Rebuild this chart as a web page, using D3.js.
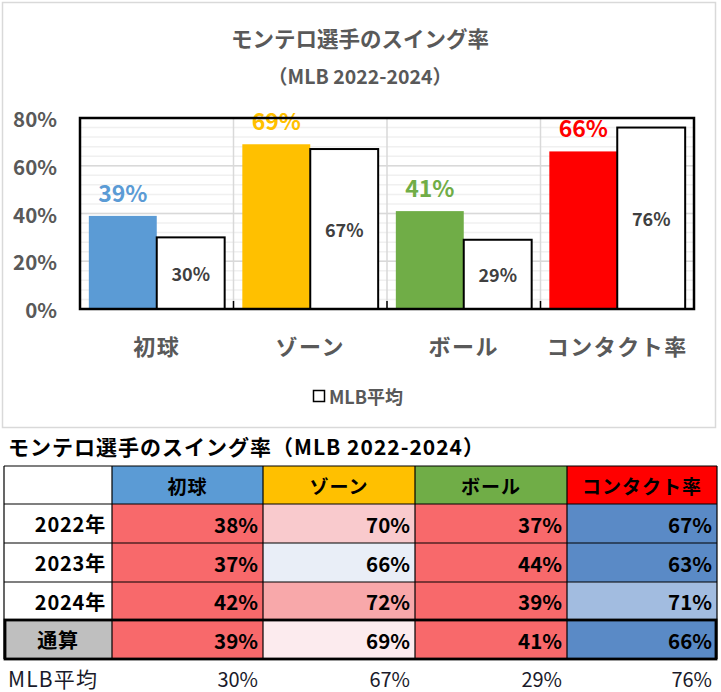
<!DOCTYPE html>
<html><head><meta charset="utf-8">
<script src="https://cdn.jsdelivr.net/npm/d3@7"></script>
<style>
html,body{margin:0;padding:0;background:#fff;}
svg{display:block;}
text{font-family:"Noto Sans CJK JP","Noto Sans",sans-serif;}
</style></head>
<body>
<svg id="c" width="721" height="692"></svg>
<script>
// ---- data ----
const categories = ["初球", "ゾーン", "ボール", "コンタクト率"];
const monteroValues = [0.39, 0.69, 0.41, 0.66];
const mlbValues = [0.30, 0.67, 0.29, 0.76];
const yTicks = [0, 0.2, 0.4, 0.6, 0.8];
const chartTitle = "モンテロ選手のスイング率";
const chartSubtitle = "（MLB 2022-2024）";
const legendLabel = "MLB平均";

const tableTitle = "モンテロ選手のスイング率（MLB 2022-2024）";
const rowLabels = ["2022年", "2023年", "2024年", "通算"];
const row2022 = [38, 70, 37, 67];
const row2023 = [37, 66, 44, 63];
const row2024 = [42, 72, 39, 71];
const rowTotal = [39, 69, 41, 66];
const mlbRowLabel = "MLB平均";
const mlbRow = [30, 67, 29, 76];

// ---- styles ----
const catColors = ["#5B9BD5", "#FFC000", "#70AD47", "#FF0000"];
const cellColors = [
  ["#F8696B", "#F9CACD", "#F8696B", "#5A8AC6"],
  ["#F8696B", "#E9EEF7", "#F8696B", "#5A8AC6"],
  ["#F8696B", "#F8A8AA", "#F8696B", "#A2BCE0"],
  ["#F8696B", "#FCEBEE", "#F8696B", "#5A8AC6"]
];
const tableRows = [row2022, row2023, row2024, rowTotal];

const svg = d3.select("#c");
const fmt = d3.format(".0%");

// chart frame
svg.append("rect").attr("x", 2.5).attr("y", 2.5).attr("width", 713).attr("height", 425)
  .attr("fill", "#fff").attr("stroke", "#d9d9d9").attr("stroke-width", 1.5);

svg.append("text").attr("x", 360).attr("y", 37).attr("text-anchor", "middle")
  .attr("dominant-baseline", "central").attr("font-size", 21.5).attr("font-weight", "bold")
  .attr("fill", "#595959").text(chartTitle);
svg.append("text").attr("x", 360).attr("y", 75).attr("text-anchor", "middle")
  .attr("dominant-baseline", "central").attr("font-size", 19.5).attr("font-weight", "bold")
  .attr("fill", "#595959").text(chartSubtitle);

const L = 80, R = 694, T = 118, B = 309;
const y = d3.scaleLinear().domain([0, 0.8]).range([B, T]);
const x0 = d3.scaleBand().domain(categories).range([L, R]).padding(0);
const x1 = d3.scaleBand().domain(["p", "m"]).range([0, x0.bandwidth()]).paddingInner(0).paddingOuter(0.13);

// minor gridlines
const minor = d3.range(0, 0.8001, 0.04);
svg.append("g").selectAll("line").data(minor).join("line")
  .attr("x1", L).attr("x2", R).attr("y1", d => y(d)).attr("y2", d => y(d))
  .attr("stroke", "#f0f0f0").attr("stroke-width", 1.5);
// major gridlines
svg.append("g").selectAll("line").data(yTicks).join("line")
  .attr("x1", L).attr("x2", R).attr("y1", d => y(d)).attr("y2", d => y(d))
  .attr("stroke", "#d9d9d9").attr("stroke-width", 1.5);
// vertical category gridlines
const seps = categories.slice(1).map(c => x0(c));
svg.append("g").selectAll("line").data(seps).join("line")
  .attr("x1", d => d).attr("x2", d => d).attr("y1", T).attr("y2", B)
  .attr("stroke", "#d9d9d9").attr("stroke-width", 1.5);
// tick marks
svg.append("g").selectAll("line").data(seps).join("line")
  .attr("x1", d => d).attr("x2", d => d).attr("y1", B - 8).attr("y2", B)
  .attr("stroke", "#000").attr("stroke-width", 1.5);

// bars
const g = svg.append("g");
g.selectAll("rect.p").data(categories).join("rect").attr("class", "p")
  .attr("x", c => x0(c) + x1("p")).attr("width", x1.bandwidth())
  .attr("y", (c, i) => y(monteroValues[i])).attr("height", (c, i) => B - y(monteroValues[i]))
  .attr("fill", (c, i) => catColors[i]);
g.selectAll("rect.m").data(categories).join("rect").attr("class", "m")
  .attr("x", c => x0(c) + x1("m")).attr("width", x1.bandwidth())
  .attr("y", (c, i) => y(mlbValues[i])).attr("height", (c, i) => B - y(mlbValues[i]))
  .attr("fill", "#fff").attr("stroke", "#000").attr("stroke-width", 2);

// plot frame
svg.append("rect").attr("x", L).attr("y", T).attr("width", R - L).attr("height", B - T)
  .attr("fill", "none").attr("stroke", "#000").attr("stroke-width", 2.5);

// labels
g.selectAll("text.pl").data(categories).join("text").attr("class", "pl")
  .attr("x", c => x0(c) + x1("p") + x1.bandwidth() / 2)
  .attr("y", (c, i) => y(monteroValues[i]) - 24)
  .attr("text-anchor", "middle").attr("dominant-baseline", "central")
  .attr("font-size", 23).attr("font-weight", "bold")
  .attr("fill", (c, i) => catColors[i]).text((c, i) => fmt(monteroValues[i]));
g.selectAll("text.ml").data(categories).join("text").attr("class", "ml")
  .attr("x", c => x0(c) + x1("m") + x1.bandwidth() / 2)
  .attr("y", (c, i) => (y(mlbValues[i]) + B) / 2)
  .attr("text-anchor", "middle").attr("dominant-baseline", "central")
  .attr("font-size", 18).attr("font-weight", "bold")
  .attr("fill", "#404040").text((c, i) => fmt(mlbValues[i]));

// y axis labels
svg.append("g").selectAll("text").data(yTicks).join("text")
  .attr("x", 57).attr("y", d => y(d)).attr("text-anchor", "end").attr("dominant-baseline", "central")
  .attr("font-size", 20.5).attr("font-weight", "bold").attr("fill", "#595959").text(d => fmt(d));

// category labels
svg.append("g").selectAll("text").data(categories).join("text")
  .attr("x", c => x0(c) + x0.bandwidth() / 2).attr("y", 345)
  .attr("text-anchor", "middle").attr("dominant-baseline", "central")
  .attr("font-size", 22).attr("letter-spacing", 1.5).attr("font-weight", "bold").attr("fill", "#595959").text(c => c);

// legend
svg.append("rect").attr("x", 313.5).attr("y", 390.5).attr("width", 11).attr("height", 11)
  .attr("fill", "#fff").attr("stroke", "#000").attr("stroke-width", 1.5);
svg.append("text").attr("x", 329).attr("y", 396).attr("dominant-baseline", "central")
  .attr("font-size", 18).attr("font-weight", "bold").attr("fill", "#595959").text(legendLabel);

// ---- table ----
svg.append("text").attr("x", 8).attr("y", 446).attr("dominant-baseline", "central")
  .attr("font-size", 21).attr("letter-spacing", 1).attr("font-weight", "bold").attr("fill", "#000").text(tableTitle);

const colX = [4, 112, 263, 415, 567, 717];
const rowY = [466, 504, 543, 582, 620, 659];
const tg = svg.append("g");

// header
tg.append("rect").attr("x", colX[0]).attr("y", rowY[0]).attr("width", colX[1] - colX[0]).attr("height", rowY[1] - rowY[0]).attr("fill", "#fff");
categories.forEach((c, j) => {
  tg.append("rect").attr("x", colX[j + 1]).attr("y", rowY[0]).attr("width", colX[j + 2] - colX[j + 1])
    .attr("height", rowY[1] - rowY[0]).attr("fill", catColors[j]);
  tg.append("text").attr("x", (colX[j + 1] + colX[j + 2]) / 2).attr("y", (rowY[0] + rowY[1]) / 2)
    .attr("text-anchor", "middle").attr("dominant-baseline", "central")
    .attr("font-size", 19).attr("letter-spacing", 1).attr("font-weight", "bold").attr("fill", "#000").text(c);
});
// rows
tableRows.forEach((row, i) => {
  const y0 = rowY[i + 1], y1 = rowY[i + 2], yc = (y0 + y1) / 2;
  const isTotal = i === tableRows.length - 1;
  tg.append("rect").attr("x", colX[0]).attr("y", y0).attr("width", colX[1] - colX[0]).attr("height", y1 - y0)
    .attr("fill", isTotal ? "#BFBFBF" : "#fff");
  tg.append("text").attr("x", isTotal ? (colX[0] + colX[1]) / 2 : colX[1] - 6).attr("y", yc)
    .attr("text-anchor", isTotal ? "middle" : "end").attr("dominant-baseline", "central")
    .attr("font-size", 20).attr("letter-spacing", 0.8).attr("font-weight", "bold").attr("fill", "#000").text(rowLabels[i]);
  row.forEach((v, j) => {
    tg.append("rect").attr("x", colX[j + 1]).attr("y", y0).attr("width", colX[j + 2] - colX[j + 1])
      .attr("height", y1 - y0).attr("fill", cellColors[i][j]);
    tg.append("text").attr("x", colX[j + 2] - 5).attr("y", yc)
      .attr("text-anchor", "end").attr("dominant-baseline", "central")
      .attr("font-size", 20.5).attr("font-weight", "bold").attr("fill", "#000").text(v + "%");
  });
});
// grid lines
const gl = tg.append("g").attr("stroke", "#000").attr("stroke-width", 1.2);
rowY.forEach(yy => gl.append("line").attr("x1", colX[0]).attr("x2", colX[5]).attr("y1", yy).attr("y2", yy));
colX.forEach(xx => gl.append("line").attr("x1", xx).attr("x2", xx).attr("y1", rowY[0]).attr("y2", rowY[5]));
// thick border around total row
tg.append("rect").attr("x", colX[0] + 1).attr("y", rowY[4]).attr("width", colX[5] - colX[0] - 2)
  .attr("height", rowY[5] - rowY[4]).attr("fill", "none").attr("stroke", "#000").attr("stroke-width", 2.8);

// MLB average row
tg.append("text").attr("x", 8).attr("y", 678).attr("dominant-baseline", "central")
  .attr("font-size", 21).attr("letter-spacing", 1.2).attr("fill", "#1a1a2a").text(mlbRowLabel);
mlbRow.forEach((v, j) => {
  tg.append("text").attr("x", colX[j + 2] - 5).attr("y", 678).attr("text-anchor", "end")
    .attr("dominant-baseline", "central").attr("font-size", 20).attr("fill", "#1a1a2a").text(v + "%");
});
</script>
</body></html>
